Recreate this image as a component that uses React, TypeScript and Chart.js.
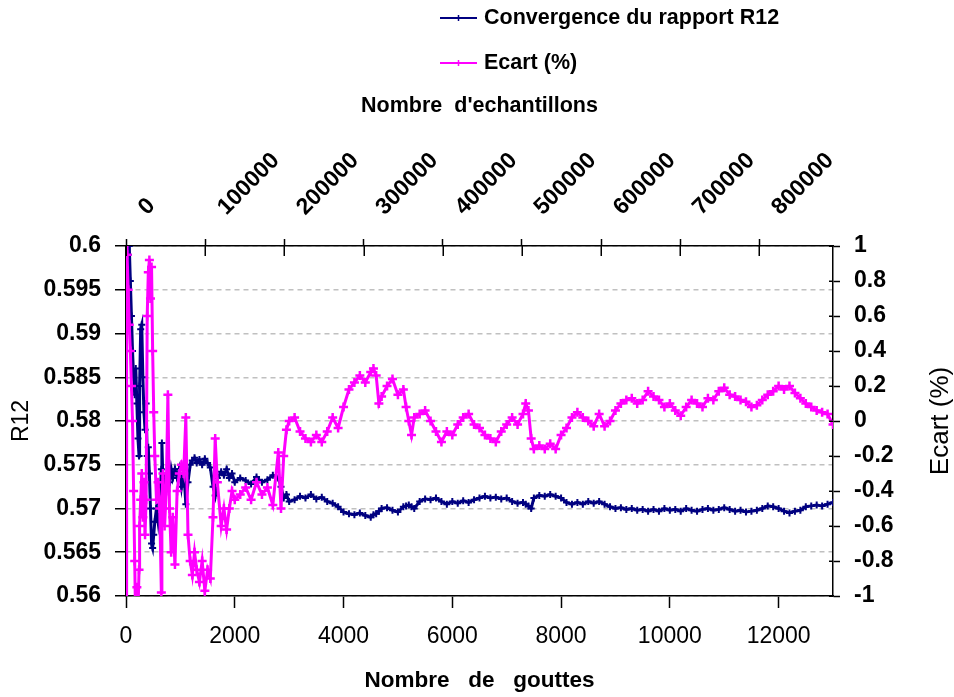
import React, { useEffect, useRef } from 'react';
import { Chart, registerables } from 'chart.js';

Chart.register(...registerables);

const FONT = '"Liberation Sans", Arial, Helvetica, sans-serif';

// ---------------- data ----------------
const seriesLabels = ['Convergence du rapport R12', 'Ecart (%)'];
const seriesColors = ['#000080', '#ff00ff'];

const topAxisTitle = "Nombre  d'echantillons";
const bottomAxisTitle = 'Nombre   de   gouttes';
const leftAxisTitle = 'R12';
const rightAxisTitle = 'Ecart (%)';

// tick values
const bottomTicks = [0, 2000, 4000, 6000, 8000, 10000, 12000];
const topTicks = [0, 100000, 200000, 300000, 400000, 500000, 600000, 700000, 800000];

// Nombre de gouttes (x)
const drops = [
  0, 10, 20, 40, 60, 80, 100, 120, 140, 160, 180, 200, 220, 240, 250, 270, 290, 310, 330, 350,
  370, 390, 410, 430, 450, 470, 490, 510, 530, 560, 590, 620, 650, 660, 680, 710, 740, 770, 800, 830,
  860, 900, 940, 980, 1020, 1060, 1100, 1140, 1180, 1220, 1260, 1300, 1350, 1400, 1450, 1500, 1550, 1600, 1640, 1680,
  1750, 1800, 1850, 1900, 1950, 2000,
  2100, 2200, 2300, 2400, 2500, 2600, 2700, 2800, 2850, 2900, 2950, 3000,
  3100, 3200, 3300, 3400, 3500, 3600, 3700, 3800, 3900, 4000, 4100, 4200, 4300, 4400, 4500, 4550, 4600, 4650, 4700, 4800,
  4900, 5000, 5100, 5150, 5200, 5250, 5300,
  5400, 5500, 5600, 5700, 5800, 5900, 6000, 6100, 6200, 6300, 6400, 6500, 6600, 6700, 6800, 6900, 7000, 7100, 7200, 7300,
  7350, 7400, 7450, 7500,
  7600, 7700, 7800, 7900, 8000, 8100, 8200, 8300, 8400, 8500, 8600, 8700, 8800, 8900, 9000, 9100, 9200, 9300, 9400, 9500,
  9600, 9700, 9800, 9900, 10000, 10100, 10200, 10300, 10400, 10500, 10600, 10700, 10800, 10900, 11000, 11100, 11200, 11300, 11400, 11500,
  11600, 11700, 11800, 11900, 12000, 12100, 12200, 12300, 12400, 12500, 12600, 12700, 12800, 12900, 13000,
];

// Convergence du rapport R12 (left axis)
const r12 = [
  0.54, 0.62, 0.6, 0.599, 0.6, 0.596, 0.592, 0.588, 0.585, 0.583, 0.586, 0.582, 0.578, 0.576, 0.584, 0.5905, 0.591, 0.585, 0.581, 0.579,
  0.582, 0.576, 0.577, 0.574, 0.57, 0.566, 0.5655, 0.567, 0.5685, 0.57, 0.5685, 0.5705, 0.5745, 0.5775, 0.573, 0.5735, 0.5725, 0.574, 0.573, 0.5745,
  0.5735, 0.5745, 0.5735, 0.5745, 0.5725, 0.5745, 0.5705, 0.573, 0.575, 0.5755, 0.5758, 0.5752, 0.5756, 0.575, 0.5757, 0.5752, 0.5747, 0.5725, 0.5715, 0.5735,
  0.5742, 0.5738, 0.5745, 0.5735, 0.574, 0.573,
  0.5735, 0.5732, 0.5728, 0.5736, 0.573, 0.5733, 0.5738, 0.5735, 0.5725, 0.5712, 0.5716, 0.5708,
  0.571, 0.5714, 0.5712, 0.5716, 0.5711, 0.5713, 0.5708, 0.5706, 0.5702, 0.5696, 0.5694, 0.5693, 0.5695, 0.5692, 0.569, 0.5693, 0.5694, 0.5697, 0.57, 0.5701,
  0.5698, 0.5696, 0.5702, 0.5703, 0.5704, 0.5702, 0.57,
  0.5708, 0.5711, 0.571, 0.5712, 0.5708, 0.5705, 0.5708, 0.5706, 0.5709, 0.5707, 0.571, 0.5712, 0.5714, 0.5712, 0.5713, 0.5711, 0.5712, 0.5708, 0.5706, 0.5707,
  0.5705, 0.5703, 0.57, 0.5712,
  0.5715, 0.5714, 0.5716, 0.5714, 0.5712, 0.5707, 0.5705, 0.5707, 0.5705, 0.5708, 0.5706, 0.5708, 0.5705, 0.5702, 0.57, 0.5701, 0.5699, 0.57, 0.5698, 0.5699,
  0.5697, 0.5699, 0.5697, 0.57, 0.5698, 0.5699, 0.5697, 0.57, 0.5698, 0.5697, 0.5699, 0.57, 0.5698, 0.5699, 0.5701, 0.5699, 0.5697, 0.5698, 0.5696, 0.5697,
  0.5698, 0.57, 0.5703, 0.5702, 0.57, 0.5697, 0.5695, 0.5697, 0.5698, 0.5702, 0.5703, 0.5704, 0.5703, 0.5705, 0.5707,
];

// Ecart (%) (right axis)
const ecart = [
  -1.5, 1.5, 0.95, 0.75, 0.55, 0.4, 0.2, 0.0, -0.4, -0.8, -1.2, -0.95, -1.1, -0.85, -0.6, -0.45, -0.3, -0.55, -0.35, -0.65,
  -0.45, 0.6, 0.85, 0.92, 0.7, 0.88, 0.4, 0.05, -0.2, -0.45, -0.35, -0.5, -0.98, -0.45, -0.3, -0.6, -0.4, 0.15, -0.5, -0.75,
  -0.55, -0.82, -0.4, -0.3, -0.25, -0.3, 0.02, -0.65, -0.8, -0.88, -0.75, -0.85, -0.92, -0.8, -0.97, -0.85, -0.9, -0.55, -0.1, -0.35,
  -0.6, -0.5, -0.62, -0.5, -0.4, -0.45,
  -0.42, -0.38, -0.45, -0.35, -0.42, -0.38, -0.48, -0.18, -0.5, -0.2, -0.05, 0.0,
  0.02, -0.06, -0.1, -0.12, -0.08, -0.12, -0.06, 0.02, -0.04, 0.08, 0.18, 0.22, 0.26, 0.22, 0.28, 0.3, 0.26, 0.1, 0.14, 0.2,
  0.24, 0.15, 0.18, 0.08, 0.0, -0.08, 0.02,
  0.04, 0.06, 0.0, -0.06, -0.12, -0.06, -0.08, -0.02, 0.02, 0.04, -0.02, -0.04, -0.08, -0.1, -0.12, -0.06, -0.02, 0.02, -0.02, 0.04,
  0.1, 0.06, -0.1, -0.16,
  -0.14, -0.16, -0.13, -0.16, -0.08, -0.04, 0.02, 0.05, 0.02, 0.0, -0.03, 0.04, -0.03, 0.0, 0.06, 0.1, 0.12, 0.13, 0.1, 0.12,
  0.17, 0.14, 0.12, 0.08, 0.1, 0.06, 0.03, 0.08, 0.12, 0.1, 0.08, 0.13, 0.12, 0.17, 0.19, 0.15, 0.14, 0.12, 0.11, 0.08,
  0.09, 0.12, 0.15, 0.17, 0.2, 0.18, 0.2, 0.16, 0.13, 0.1, 0.08, 0.06, 0.05, 0.04, -0.02,
];

// axis ranges / tick steps
const xRange = [0, 13000];
const x2Range = [0, 893000];
const yRange = [0.56, 0.6, 0.005];
const y2Range = [-1, 1, 0.2];

// ---------------- extra drawing ----------------
const extrasPlugin = {
  id: 'extras',
  afterDraw(chart: any) {
    const { ctx, chartArea } = chart;
    const { right, top, bottom } = chartArea;
    ctx.save();
    ctx.strokeStyle = '#000';
    ctx.lineWidth = 1.5;
    const seg = (x1: number, y1: number, x2: number, y2: number) => {
      ctx.beginPath();
      ctx.moveTo(x1, y1);
      ctx.lineTo(x2, y2);
      ctx.stroke();
    };
    // inner parts of crossing tick marks
    const sx2 = chart.scales.x2;
    sx2.ticks.forEach((t: any) => {
      const px = Math.round(sx2.getPixelForValue(t.value)) + 0.25;
      seg(px, top, px, top + 10);
    });
    const sy2 = chart.scales.y2;
    sy2.ticks.forEach((t: any) => {
      const py = Math.round(sy2.getPixelForValue(t.value)) + 0.25;
      seg(right - 4, py, right, py);
    });
    // right axis title (reads bottom to top)
    ctx.save();
    ctx.translate(941, (top + bottom) / 2);
    ctx.rotate(-Math.PI / 2);
    ctx.font = `26px ${FONT}`;
    ctx.fillStyle = '#000';
    ctx.textAlign = 'center';
    ctx.textBaseline = 'middle';
    ctx.fillText(rightAxisTitle, 0, 0);
    ctx.restore();
    // legend
    const legendY = [18, 63];
    chart.data.datasets.forEach((ds: any, i: number) => {
      const y = legendY[i];
      ctx.strokeStyle = ds.borderColor;
      ctx.lineWidth = 2;
      seg(440, y, 477, y);
      ctx.lineWidth = 1.5;
      seg(458.5, y - 3, 458.5, y + 3);
      ctx.fillStyle = '#000';
      ctx.font = `bold 21.5px ${FONT}`;
      ctx.textAlign = 'left';
      ctx.textBaseline = 'middle';
      ctx.fillText(ds.label, 484, y);
    });
    ctx.restore();
  },
};

const axisBorder = { display: true, color: '#000', width: 1.5 };

export default function App() {
  const canvasRef = useRef<HTMLCanvasElement | null>(null);

  useEffect(() => {
    if (!canvasRef.current) return;
    Chart.defaults.font.family = FONT;
    Chart.defaults.color = '#000';

    const lineStyle = (color: string, radius: number, pw: number) => ({
      borderColor: color,
      backgroundColor: color,
      borderWidth: 3,
      pointStyle: 'cross',
      pointRadius: radius,
      pointBorderWidth: pw,
      pointBorderColor: color,
      tension: 0,
    });

    const chart = new Chart(canvasRef.current, {
      type: 'line',
      data: {
        datasets: [
          {
            label: seriesLabels[0],
            data: drops.map((d, i) => ({ x: d, y: r12[i] })),
            xAxisID: 'x',
            yAxisID: 'y',
            ...lineStyle(seriesColors[0], 3.5, 2),
            order: 1,
          },
          {
            label: seriesLabels[1],
            data: drops.map((d, i) => ({ x: d, y: ecart[i] })),
            xAxisID: 'x',
            yAxisID: 'y2',
            ...lineStyle(seriesColors[1], 4.5, 2.5),
            order: 0,
          },
        ],
      },
      options: {
        animation: false,
        responsive: true,
        maintainAspectRatio: false,
        layout: { padding: 0 },
        plugins: {
          legend: { display: false },
          tooltip: { enabled: false },
        },
        scales: {
          x: {
            type: 'linear',
            position: 'bottom',
            min: xRange[0],
            max: xRange[1],
            afterBuildTicks: (s: any) => {
              s.ticks = bottomTicks.map((v) => ({ value: v }));
            },
            ticks: {
              maxRotation: 0,
              minRotation: 0,
              autoSkip: false,
              padding: 15,
              color: '#000',
              font: { size: 23 },
              callback: (v: any) => String(v),
            },
            grid: { drawOnChartArea: false, tickLength: 12, tickColor: '#000', tickWidth: 1.5 },
            border: axisBorder,
            title: {
              display: true,
              text: bottomAxisTitle,
              color: '#000',
              font: { size: 22.5, weight: 'bold' },
              padding: { top: 0, bottom: 3 },
            },
            afterFit: (s: any) => {
              s.height = 101;
            },
          },
          x2: {
            type: 'linear',
            position: 'top',
            min: x2Range[0],
            max: x2Range[1],
            afterBuildTicks: (s: any) => {
              s.ticks = topTicks.map((v) => ({ value: v }));
            },
            ticks: {
              minRotation: 45,
              maxRotation: 45,
              autoSkip: false,
              labelOffset: 36,
              padding: 18,
              color: '#000',
              font: { size: 23, weight: 'bold' },
              callback: (v: any) => String(v),
            },
            grid: { drawOnChartArea: false, tickLength: 7, tickColor: '#000', tickWidth: 1.5 },
            border: axisBorder,
            title: {
              display: true,
              text: topAxisTitle,
              color: '#000',
              font: { size: 21.5, weight: 'bold' },
              padding: { top: 93, bottom: 0 },
            },
            afterFit: (s: any) => {
              s.height = 246;
            },
          },
          y: {
            type: 'linear',
            position: 'left',
            min: yRange[0],
            max: yRange[1],
            ticks: {
              stepSize: yRange[2],
              padding: 14,
              color: '#000',
              font: { size: 23, weight: 'bold' },
              callback: (v: any) => String(parseFloat(Number(v).toFixed(3))),
            },
            grid: {
              color: '#c0c0c0',
              lineWidth: 1.5,
              tickLength: 11,
              tickColor: '#000',
              tickWidth: 1.5,
              tickBorderDash: [],
            },
            border: { display: true, color: '#000', width: 1.5, dash: [5, 4] },
            title: {
              display: true,
              text: leftAxisTitle,
              color: '#000',
              font: { size: 23 },
              padding: { top: 8, bottom: 0 },
            },
            afterFit: (s: any) => {
              s.width = 126;
            },
          },
          y2: {
            type: 'linear',
            position: 'right',
            min: y2Range[0],
            max: y2Range[1],
            ticks: {
              stepSize: y2Range[2],
              padding: 14,
              color: '#000',
              font: { size: 23, weight: 'bold' },
              callback: (v: any) => String(parseFloat(Number(v).toFixed(1))),
            },
            grid: { drawOnChartArea: false, tickLength: 7, tickColor: '#000', tickWidth: 1.5 },
            border: axisBorder,
            afterFit: (s: any) => {
              s.width = 121;
            },
          },
        },
      } as any,
      plugins: [extrasPlugin],
    });

    return () => {
      chart.destroy();
    };
  }, []);

  return (
    <div style={{ position: 'absolute', left: 0, top: 0, width: 954, height: 697, background: '#fff' }}>
      <canvas ref={canvasRef} />
    </div>
  );
}
